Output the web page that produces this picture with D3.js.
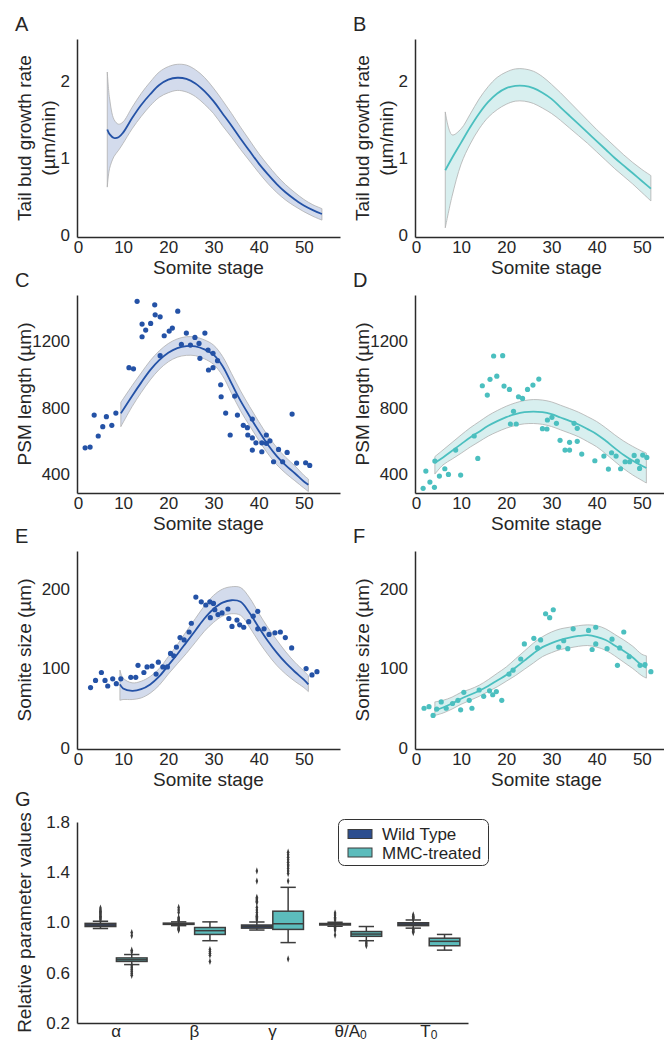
<!DOCTYPE html>
<html>
<head>
<meta charset="utf-8">
<script src="https://cdn.jsdelivr.net/npm/d3@7"></script>
<style>
  html, body { margin: 0; padding: 0; background: #fff; }
  svg { display: block; }
  text { font-family: "Liberation Sans", Arial, Helvetica, sans-serif; fill: #262626; }
</style>
</head>
<body>
<svg id="fig" width="664" height="1042"></svg>
<script>
// ---------------- data ----------------
const stageTicks = [0, 10, 20, 30, 40, 50];

// A: tail bud growth rate, wild type (fit + confidence band)
const rateWtStage = [6.5, 7, 8, 9, 10, 12, 14, 16, 18, 20, 22, 24, 26, 28, 30, 32, 34, 36, 38, 40, 42, 44, 46, 48, 50, 52, 54];
const rateWtMean  = [1.37, 1.31, 1.26, 1.27, 1.33, 1.52, 1.69, 1.83, 1.95, 2.02, 2.045, 2.03, 1.97, 1.87, 1.74, 1.58, 1.42, 1.25, 1.09, 0.93, 0.79, 0.66, 0.55, 0.46, 0.38, 0.32, 0.27];
const rateWtHigh  = [2.12, 1.78, 1.50, 1.44, 1.47, 1.66, 1.84, 1.99, 2.12, 2.19, 2.22, 2.21, 2.15, 2.05, 1.91, 1.75, 1.58, 1.40, 1.23, 1.06, 0.91, 0.77, 0.65, 0.55, 0.46, 0.39, 0.34];
const rateWtLow   = [0.62, 0.86, 1.02, 1.10, 1.19, 1.38, 1.54, 1.68, 1.79, 1.85, 1.88, 1.86, 1.80, 1.70, 1.58, 1.42, 1.27, 1.11, 0.96, 0.81, 0.67, 0.55, 0.45, 0.37, 0.30, 0.24, 0.19];

// B: tail bud growth rate, MMC-treated
const rateMmcStage = [6.5, 8, 10, 12, 14, 16, 18, 20, 22, 24, 26, 28, 30, 32, 34, 36, 38, 40, 42, 44, 46, 48, 50, 52];
const rateMmcMean  = [0.84, 1.00, 1.20, 1.40, 1.58, 1.73, 1.84, 1.91, 1.94, 1.94, 1.91, 1.85, 1.77, 1.66, 1.55, 1.44, 1.33, 1.22, 1.11, 1.00, 0.90, 0.80, 0.70, 0.60];
const rateMmcHigh  = [1.60, 1.30, 1.38, 1.57, 1.77, 1.93, 2.05, 2.12, 2.16, 2.16, 2.13, 2.06, 1.96, 1.85, 1.73, 1.61, 1.49, 1.37, 1.26, 1.15, 1.04, 0.94, 0.85, 0.77];
const rateMmcLow   = [0.09, 0.50, 0.92, 1.18, 1.38, 1.53, 1.63, 1.70, 1.74, 1.74, 1.71, 1.65, 1.58, 1.49, 1.39, 1.29, 1.19, 1.08, 0.97, 0.86, 0.76, 0.66, 0.55, 0.44];

// C: PSM length, wild type
const psmWtStage = [9.5, 12, 14, 16, 18, 20, 22, 24, 26, 28, 30, 32, 34, 36, 38, 40, 42, 44, 46, 48, 50, 51];
const psmWtMean  = [765, 870, 950, 1025, 1085, 1130, 1158, 1170, 1168, 1150, 1118, 1050, 945, 840, 748, 660, 578, 508, 452, 405, 355, 335];
const psmWtHigh  = [831, 932, 1008, 1082, 1141, 1185, 1213, 1226, 1224, 1207, 1176, 1108, 1005, 900, 806, 716, 632, 560, 500, 450, 393, 370];
const psmWtLow   = [685, 806, 890, 966, 1029, 1075, 1103, 1114, 1112, 1093, 1060, 992, 885, 780, 690, 604, 524, 456, 404, 360, 316, 295];
const psmWtPtStage = [1.6, 2.7, 3.6, 4.5, 5.5, 6.3, 7.5, 8.4, 11.3, 12.3, 13.1, 14.2, 14.2, 15.0, 16.1, 17.0, 17.1, 18.2, 18.2, 19.1, 20.2, 20.9, 22.1, 22.9, 24.0, 24.9, 25.9, 26.8, 27.0, 28.1, 28.8, 28.9, 29.9, 29.9, 30.9, 31.6, 31.7, 32.7, 33.7, 34.7, 35.3, 36.6, 37.5, 37.6, 38.6, 38.6, 38.6, 39.4, 40.7, 40.7, 41.7, 41.7, 42.5, 43.3, 44.4, 45.3, 46.3, 47.4, 48.4, 50.4, 51.3];
const psmWtPtValue = [558, 562, 755, 629, 685, 745, 693, 767, 1040, 1033, 1439, 1302, 1226, 1266, 1306, 1418, 1358, 1346, 1112, 1232, 1260, 1278, 1380, 1180, 1248, 1176, 1222, 1186, 1096, 1248, 1146, 1026, 1126, 1040, 1082, 937, 865, 767, 635, 869, 755, 693, 679, 635, 731, 617, 544, 588, 588, 534, 635, 585, 600, 474, 548, 474, 530, 761, 466, 468, 452];

// D: PSM length, MMC-treated
const psmMmcStage = [4.2, 6, 8, 10, 12, 14, 16, 18, 20, 22, 24, 26, 28, 30, 32, 34, 36, 38, 40, 42, 44, 46, 48, 50, 51];
const psmMmcMean  = [468, 500, 540, 580, 620, 655, 690, 718, 742, 760, 772, 776, 772, 760, 740, 720, 698, 670, 640, 600, 556, 515, 480, 450, 436];
const psmMmcHigh  = [505, 545, 590, 635, 678, 715, 752, 782, 808, 828, 842, 848, 845, 834, 814, 794, 772, 745, 716, 678, 636, 598, 566, 538, 526];
const psmMmcLow   = [400, 455, 490, 525, 562, 595, 628, 654, 676, 692, 702, 704, 699, 686, 666, 646, 624, 595, 564, 522, 476, 432, 394, 362, 346];
const psmMmcPtStage = [1.6, 2.2, 3.1, 4.1, 4.2, 5.2, 6.4, 7.2, 8.8, 9.9, 12.9, 13.7, 14.7, 15.8, 16.4, 17.2, 17.9, 19.2, 19.5, 20.7, 20.9, 21.6, 22.2, 22.7, 23.6, 24.7, 25.9, 27.2, 28.0, 29.0, 29.1, 30.1, 31.1, 31.9, 33.0, 34.0, 34.0, 35.0, 35.7, 35.7, 36.7, 39.6, 41.6, 42.6, 43.3, 44.3, 45.3, 46.3, 47.3, 48.3, 49.0, 49.5, 50.2, 51.1];
const psmMmcPtValue = [314, 418, 352, 320, 478, 388, 432, 398, 544, 394, 629, 494, 931, 875, 970, 1110, 989, 1112, 929, 909, 701, 777, 701, 865, 855, 909, 935, 971, 673, 671, 725, 741, 705, 603, 544, 591, 544, 705, 675, 597, 520, 480, 508, 430, 528, 508, 432, 474, 474, 512, 478, 434, 514, 500];

// E: somite size, wild type
const somWtStage = [9.3, 10, 12, 14, 16, 18, 20, 22, 24, 26, 28, 30, 32, 34, 36, 38, 40, 42, 44, 46, 48, 50, 51];
const somWtMean  = [80, 75, 72, 74, 80, 90, 104, 118, 133, 148, 163, 175, 183, 186, 184, 170, 152, 135, 120, 107, 96, 86, 80];
const somWtHigh  = [98, 88, 82, 84, 90, 100, 115, 130, 147, 163, 179, 192, 200, 203, 202, 189, 170, 152, 136, 121, 108, 97, 91];
const somWtLow   = [60, 61, 61, 63, 69, 79, 93, 106, 119, 133, 147, 158, 166, 169, 167, 152, 134, 118, 104, 93, 84, 76, 71];
const somWtPtStage = [2.8, 3.9, 5.2, 6.0, 6.6, 7.7, 8.5, 9.5, 11.7, 12.8, 13.3, 14.6, 15.3, 16.4, 17.3, 17.8, 18.8, 19.8, 20.5, 21.2, 21.8, 22.6, 23.5, 24.6, 25.1, 26.1, 27.3, 28.3, 29.2, 29.3, 30.0, 30.3, 31.0, 31.9, 33.2, 33.4, 34.1, 35.2, 35.8, 36.7, 37.8, 38.8, 39.8, 39.8, 41.2, 42.3, 43.6, 44.8, 45.9, 47.3, 50.5, 51.8, 52.9];
const somWtPtValue = [76, 85, 95, 85, 78, 87, 81, 87, 89, 89, 104, 95, 102, 103, 93, 108, 102, 102, 119, 116, 127, 139, 136, 146, 157, 190, 184, 180, 184, 164, 182, 174, 168, 170, 175, 163, 153, 161, 155, 152, 159, 166, 172, 150, 150, 143, 145, 146, 139, 126, 100, 92, 96];

// F: somite size, MMC-treated
const somMmcStage = [4.2, 6, 8, 10, 12, 14, 16, 18, 20, 22, 24, 26, 28, 30, 32, 34, 36, 38, 40, 42, 44, 46, 48, 50, 51];
const somMmcMean  = [47, 51, 56, 62, 67, 72, 78, 85, 92, 101, 110, 119, 127, 132, 136, 139, 141, 142, 140, 136, 129, 122, 114, 104, 101];
const somMmcHigh  = [58, 60, 64, 70, 74, 79, 86, 94, 102, 112, 122, 132, 140, 146, 150, 152, 154, 155, 154, 150, 143, 136, 128, 118, 116];
const somMmcLow   = [41, 44, 49, 55, 60, 65, 71, 77, 84, 91, 99, 107, 115, 120, 124, 126, 128, 129, 127, 123, 116, 108, 100, 91, 88];
const somMmcPtStage = [1.8, 2.9, 3.8, 4.6, 5.6, 6.7, 8.1, 9.3, 9.9, 10.6, 11.8, 12.4, 14.0, 15.0, 16.3, 17.0, 17.8, 19.0, 20.6, 21.5, 23.2, 24.0, 26.1, 26.9, 27.6, 28.7, 29.6, 30.4, 31.6, 32.7, 33.6, 34.8, 38.2, 39.0, 39.8, 39.8, 42.3, 43.4, 44.6, 45.1, 46.0, 47.2, 49.6, 50.7, 52.0];
const somMmcPtValue = [50, 52, 41, 49, 58, 50, 56, 60, 48, 70, 60, 50, 73, 65, 72, 67, 71, 60, 93, 98, 112, 131, 138, 126, 136, 169, 164, 174, 127, 135, 125, 150, 148, 124, 152, 131, 125, 137, 104, 126, 146, 115, 104, 105, 96];

// G: relative parameter values (box plot summaries)
const paramNames = ["α", "β", "γ", "θ/A0", "T0"];
const groupNames = ["Wild Type", "MMC-treated"];
const wtQ1   = [0.968, 0.985, 0.955, 0.980, 0.975];
const wtMed  = [0.980, 0.990, 0.968, 0.986, 0.987];
const wtQ3   = [0.993, 0.995, 0.980, 0.992, 0.998];
const wtLow  = [0.952, 0.975, 0.940, 0.970, 0.955];
const wtHigh = [1.010, 1.005, 1.004, 1.002, 1.020];
const wtOut  = [
  [1.02, 1.03, 1.04, 1.05, 1.06, 1.07, 1.08, 1.09, 1.10, 1.115],
  [1.12, 1.10, 1.08, 1.04, 1.03, 1.02, 1.015, 0.965, 0.955, 0.945, 0.94],
  [1.41, 1.33, 1.20, 1.19, 1.18, 1.17, 1.16, 1.12, 1.10, 1.08, 1.06, 1.05, 1.04, 1.03, 1.02],
  [1.075, 1.06, 1.04, 1.03, 1.02, 0.96, 0.95, 0.94, 0.90],
  [1.06, 1.05, 1.04, 1.035, 1.03, 0.945, 0.94, 0.93, 0.92]
];
const mmcQ1   = [0.690, 0.905, 0.945, 0.890, 0.815];
const mmcMed  = [0.703, 0.935, 0.990, 0.908, 0.850];
const mmcQ3   = [0.718, 0.960, 1.090, 0.928, 0.875];
const mmcLow  = [0.665, 0.855, 0.840, 0.855, 0.780];
const mmcHigh = [0.745, 1.005, 1.280, 0.968, 0.905];
const mmcOut  = [
  [0.92, 0.895, 0.78, 0.765, 0.655, 0.64, 0.625, 0.61, 0.595, 0.58],
  [0.785, 0.77, 0.755, 0.74, 0.69],
  [1.56, 1.54, 1.52, 1.50, 1.48, 1.46, 1.45, 1.43, 1.41, 1.39, 1.33, 0.71],
  [0.845, 0.83, 0.815],
  []
];
const paramTicks = [0.2, 0.6, 1.0, 1.4, 1.8];

// ---------------- styling ----------------
const BLUE = "#2452a6", BLUE_BAND = "#d3dbec";
const TEAL = "#4bbfbf", TEAL_BAND = "#d8efef";
const BAND_EDGE = "#b0b0b0";
const SPINE = "#2b2b2b";
const BOX_LINE = "#3d3d3d";
const WT_FILL = "#2c4e8f", MMC_FILL = "#5cbcbc";

const svg = d3.select("#fig");

function rows(stage, a, b, c) {
  return stage.map((s, i) => ({ s, m: a[i], hi: b ? b[i] : null, lo: c ? c[i] : null }));
}

function styleAxis(g) {
  g.select(".domain").attr("stroke", SPINE).attr("stroke-width", 1.5);
  g.selectAll(".tick line").remove();
  g.selectAll(".tick text").attr("font-size", 17).attr("fill", "#262626")
    .attr("font-family", '"Liberation Sans", Arial, sans-serif');
}

function curvePanel(cfg) {
  const g = svg.append("g");
  const x = d3.scaleLinear().domain([-0.2, 58]).range([cfg.left, cfg.left + 263]);
  const y = d3.scaleLinear().domain(cfg.yDomain).range([cfg.bottom, cfg.bottom - 198]);

  const fit = rows(cfg.stage, cfg.mean, cfg.high, cfg.low);
  const curve = d3.curveCatmullRom.alpha(0.5);

  g.append("path").datum(fit)
    .attr("d", d3.area().x(d => x(d.s)).y0(d => y(d.lo)).y1(d => y(d.hi)).curve(curve))
    .attr("fill", cfg.band).attr("stroke", BAND_EDGE).attr("stroke-width", 0.8);
  g.append("path").datum(fit)
    .attr("d", d3.line().x(d => x(d.s)).y(d => y(d.m)).curve(curve))
    .attr("fill", "none").attr("stroke", cfg.color).attr("stroke-width", 1.8);

  if (cfg.ptStage) {
    g.selectAll("circle.pt").data(cfg.ptStage.map((s, i) => [s, cfg.ptValue[i]]))
      .join("circle").attr("class", "pt")
      .attr("cx", d => x(d[0])).attr("cy", d => y(d[1])).attr("r", 2.6)
      .attr("fill", cfg.color);
  }

  g.append("g").attr("transform", `translate(${cfg.left},0)`)
    .call(d3.axisLeft(y).tickValues(cfg.yTicks).tickSize(0).tickPadding(7).tickFormat(d3.format("~g")))
    .call(styleAxis);
  g.append("g").attr("transform", `translate(0,${cfg.bottom})`)
    .call(d3.axisBottom(x).tickValues(stageTicks).tickSize(0).tickPadding(4))
    .call(styleAxis);

  g.append("text").attr("x", cfg.left + 131.5).attr("y", cfg.bottom + 37)
    .attr("text-anchor", "middle").attr("font-size", 19).text("Somite stage");

  const cy = cfg.bottom - 99;
  cfg.yLabel.forEach((line, i) => {
    const bx = cfg.yLabel.length === 1 ? cfg.left - 46 : cfg.left - 46 + i * 24;
    g.append("text").attr("transform", `translate(${bx},${cy}) rotate(-90)`)
      .attr("text-anchor", "middle").attr("font-size", 19).text(line);
  });

  g.append("text").attr("x", cfg.left - 62).attr("y", cfg.bottom - 206)
    .attr("font-size", 20).text(cfg.letter);
}

const rateLabel = ["Tail bud growth rate", "(µm/min)"];
const psmLabel = ["PSM length (µm)"];
const somLabel = ["Somite size (µm)"];

curvePanel({ letter: "A", left: 77, bottom: 237, yDomain: [-0.03, 2.55], yTicks: [0, 1, 2], yLabel: rateLabel,
  stage: rateWtStage, mean: rateWtMean, high: rateWtHigh, low: rateWtLow, color: BLUE, band: BLUE_BAND });
curvePanel({ letter: "B", left: 415, bottom: 237, yDomain: [-0.03, 2.55], yTicks: [0, 1, 2], yLabel: rateLabel,
  stage: rateMmcStage, mean: rateMmcMean, high: rateMmcHigh, low: rateMmcLow, color: TEAL, band: TEAL_BAND });
curvePanel({ letter: "C", left: 77, bottom: 493, yDomain: [286, 1477], yTicks: [400, 800, 1200], yLabel: psmLabel,
  stage: psmWtStage, mean: psmWtMean, high: psmWtHigh, low: psmWtLow, color: BLUE, band: BLUE_BAND,
  ptStage: psmWtPtStage, ptValue: psmWtPtValue });
curvePanel({ letter: "D", left: 415, bottom: 493, yDomain: [286, 1477], yTicks: [400, 800, 1200], yLabel: psmLabel,
  stage: psmMmcStage, mean: psmMmcMean, high: psmMmcHigh, low: psmMmcLow, color: TEAL, band: TEAL_BAND,
  ptStage: psmMmcPtStage, ptValue: psmMmcPtValue });
curvePanel({ letter: "E", left: 77, bottom: 749, yDomain: [-1.3, 248], yTicks: [0, 100, 200], yLabel: somLabel,
  stage: somWtStage, mean: somWtMean, high: somWtHigh, low: somWtLow, color: BLUE, band: BLUE_BAND,
  ptStage: somWtPtStage, ptValue: somWtPtValue });
curvePanel({ letter: "F", left: 415, bottom: 749, yDomain: [-1.3, 248], yTicks: [0, 100, 200], yLabel: somLabel,
  stage: somMmcStage, mean: somMmcMean, high: somMmcHigh, low: somMmcLow, color: TEAL, band: TEAL_BAND,
  ptStage: somMmcPtStage, ptValue: somMmcPtValue });

// ---------------- G: box plots ----------------
(function boxPanel() {
  const left = 77, right = 468, bottom = 1023, top = 822;
  const g = svg.append("g");
  const xb = d3.scaleBand().domain(paramNames).range([left, right]).padding(0);
  const xg = d3.scaleBand().domain(groupNames).range([0, xb.bandwidth() * 0.8]);
  const y = d3.scaleLinear().domain([0.2, 1.8]).range([bottom, top]);

  const groups = [
    { name: groupNames[0], q1: wtQ1, med: wtMed, q3: wtQ3, lo: wtLow, hi: wtHigh, out: wtOut, fill: WT_FILL },
    { name: groupNames[1], q1: mmcQ1, med: mmcMed, q3: mmcQ3, lo: mmcLow, hi: mmcHigh, out: mmcOut, fill: MMC_FILL }
  ];
  const diamond = d3.symbol().type(d3.symbolDiamond).size(9);

  groups.forEach(grp => {
    paramNames.forEach((p, i) => {
      const cx = xb(p) + xb.bandwidth() * 0.1 + xg(grp.name) + xg.bandwidth() / 2;
      const w = xg.bandwidth() * 0.98;
      const cap = w / 2;
      const bg = g.append("g");
      // whiskers
      bg.append("line").attr("x1", cx).attr("x2", cx).attr("y1", y(grp.q3[i])).attr("y2", y(grp.hi[i]))
        .attr("stroke", BOX_LINE).attr("stroke-width", 1.5);
      bg.append("line").attr("x1", cx).attr("x2", cx).attr("y1", y(grp.q1[i])).attr("y2", y(grp.lo[i]))
        .attr("stroke", BOX_LINE).attr("stroke-width", 1.5);
      [grp.hi[i], grp.lo[i]].forEach(v => {
        bg.append("line").attr("x1", cx - cap / 2).attr("x2", cx + cap / 2).attr("y1", y(v)).attr("y2", y(v))
          .attr("stroke", BOX_LINE).attr("stroke-width", 1.5);
      });
      // box
      bg.append("rect").attr("x", cx - w / 2).attr("width", w)
        .attr("y", y(grp.q3[i])).attr("height", Math.max(y(grp.q1[i]) - y(grp.q3[i]), 1))
        .attr("fill", grp.fill).attr("stroke", BOX_LINE).attr("stroke-width", 1.5);
      bg.append("line").attr("x1", cx - w / 2).attr("x2", cx + w / 2)
        .attr("y1", y(grp.med[i])).attr("y2", y(grp.med[i]))
        .attr("stroke", BOX_LINE).attr("stroke-width", 1.5);
      // outliers
      bg.selectAll("path.fl").data(grp.out[i]).join("path").attr("class", "fl")
        .attr("d", diamond).attr("transform", v => `translate(${cx},${y(v)}) scale(0.8,1.3)`)
        .attr("fill", BOX_LINE);
    });
  });

  g.append("g").attr("transform", `translate(${left},0)`)
    .call(d3.axisLeft(y).tickValues(paramTicks).tickSize(0).tickPadding(7).tickFormat(d3.format(".1f")))
    .call(styleAxis);
  const xa = g.append("g").attr("transform", `translate(0,${bottom})`)
    .call(d3.axisBottom(xb).tickSize(0).tickPadding(2).tickFormat(() => ""))
    .call(styleAxis);
  // category labels with subscript zeros
  xa.selectAll(".tick text").each(function(d) {
    const t = d3.select(this);
    const m = d.match(/^(.*?)0$/);
    if (m) {
      t.append("tspan").text(m[1]);
      t.append("tspan").attr("font-size", 12).attr("dy", 2).text("0");
    } else {
      t.text(d);
    }
  });

  g.append("text").attr("transform", `translate(${left - 46},${(top + bottom) / 2}) rotate(-90)`)
    .attr("text-anchor", "middle").attr("font-size", 19).text("Relative parameter values");
  g.append("text").attr("x", 15).attr("y", 806).attr("font-size", 20).text("G");

  // legend
  const lg = g.append("g");
  lg.append("rect").attr("x", 338.5).attr("y", 819.5).attr("width", 150).attr("height", 46).attr("rx", 6)
    .attr("fill", "#fff").attr("stroke", "#333").attr("stroke-width", 1);
  groups.forEach((grp, i) => {
    lg.append("rect").attr("x", 348).attr("y", 829.5 + i * 18.5).attr("width", 24).attr("height", 9)
      .attr("fill", grp.fill).attr("stroke", BOX_LINE).attr("stroke-width", 1);
    lg.append("text").attr("x", 382).attr("y", 840 + i * 18.5).attr("font-size", 17).text(grp.name);
  });
})();
</script>
</body>
</html>
